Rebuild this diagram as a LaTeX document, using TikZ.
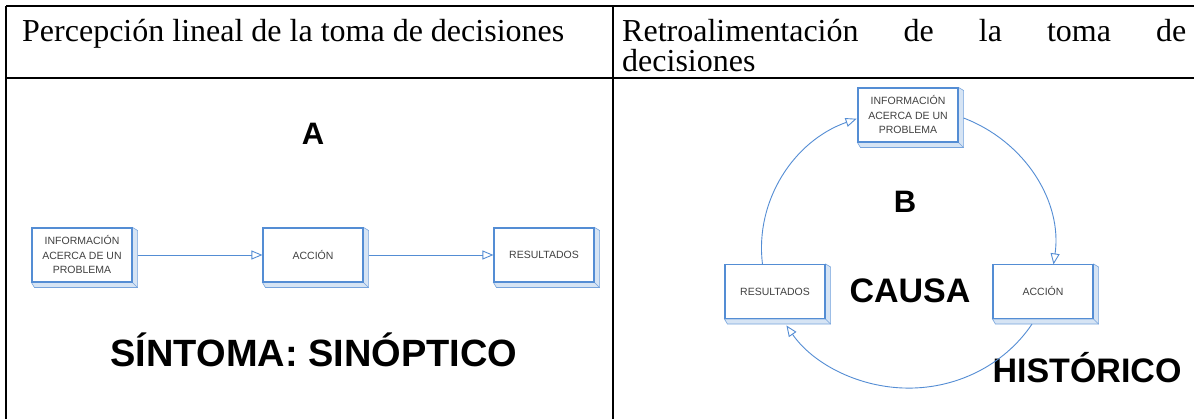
\documentclass[tikz,border=0pt]{standalone}
\usepackage{fontspec}
\setmainfont{Liberation Serif}
\newfontfamily\arial{Liberation Sans}
\usetikzlibrary{arrows.meta}
\pgfdeclarelayer{bg}
\pgfsetlayers{bg,main}
\definecolor{boxblue}{RGB}{84,141,212}
\definecolor{depthblue}{RGB}{214,228,244}
\tikzset{
  rule/.style={line width=1.6pt, black},
  flowbox/.style={draw=boxblue, line width=1.1pt, fill=white, minimum width=100pt,
    minimum height=54pt, inner sep=0pt, align=center, text=black!75,
    font=\arial\fontsize{10.5}{14.5}\selectfont},
  depthpart/.style={fill=depthblue, draw=boxblue!80, line width=0.6pt},
  conn/.style={draw=boxblue, line width=0.9pt, -{Triangle[open,length=11pt,width=9pt]}},
  headtxt/.style={anchor=base west, inner sep=0pt, font=\fontsize{32}{36}\selectfont},
  bigtxt/.style={anchor=base, inner sep=0pt, font=\arial\bfseries},
}
\begin{document}
\begin{tikzpicture}[x=1pt,y=-1pt]
\useasboundingbox (0,0) rectangle (1194,419);
% table rules
\draw[rule] (6,6) -- (1194,6);
\draw[rule] (6,78) -- (1194,78);
\draw[rule] (6,6) -- (6,419);
\draw[rule] (613,6) -- (613,419);
% headers
\node[headtxt] (h1) at (22,42) {Percepción lineal de la toma de decisiones};
\node[headtxt] (h2a) at (622,42) {\makebox[564pt]{Retroalimentación\hfill de\hfill la\hfill toma\hfill de}};
\node[headtxt] (h2b) at (622,72) {decisiones};
% left diagram
\node[bigtxt, font=\arial\bfseries\fontsize{31}{34}\selectfont] (lblA) at (313,145) {A};
\node[flowbox] (infoA) at (82,255) {INFORMACIÓN\\ACERCA DE UN\\PROBLEMA};
\node[flowbox] (accA) at (313,255) {ACCIÓN};
\node[flowbox] (resA) at (544,255) {RESULTADOS};
\draw[conn] ([xshift=5pt]infoA.east) -- (accA.west);
\draw[conn] ([xshift=5pt]accA.east) -- (resA.west);
\node[bigtxt, font=\arial\bfseries\fontsize{38}{42}\selectfont] (sint) at (314,367) {SÍNTOMA: SINÓPTICO};
% right diagram
\node[bigtxt, font=\arial\bfseries\fontsize{31}{34}\selectfont] (lblB) at (905,213) {B};
\node[flowbox] (infoB) at (908,115) {INFORMACIÓN\\ACERCA DE UN\\PROBLEMA};
\node[flowbox] (accB) at (1043,291.5) {ACCIÓN};
\node[flowbox] (resB) at (775,291.5) {RESULTADOS};
\node[bigtxt, font=\arial\bfseries\fontsize{34}{38}\selectfont] (causa) at (910,303) {CAUSA};
\node[bigtxt, font=\arial\bfseries\fontsize{34}{38}\selectfont] (hist) at (1087,383) {HISTÓRICO};
\draw[conn] ([xshift=38pt]resB.north west) arc[start angle=186.6, end angle=110.4, x radius=146pt, y radius=138pt];
\draw[conn] ([xshift=5pt,yshift=-3pt]infoB.east) arc[start angle=68, end angle=-7.7, x radius=146pt, y radius=138pt];
\draw[conn] ([xshift=-11pt,yshift=-5pt]accB.south) arc[start angle=-32.4, end angle=-146.9, x radius=146pt, y radius=138pt];
% 3D depth of boxes
\begin{pgfonlayer}{bg}
\fill[white] (0,0) rectangle (1194,419);
\foreach \n in {infoA,accA,resA,infoB,accB,resB}{
  \path[depthpart] (\n.north east) -- ([xshift=5pt,yshift=-3pt]\n.north east)
    -- ([xshift=5pt,yshift=-5pt]\n.south east) -- ([xshift=3pt,yshift=-5pt]\n.south west)
    -- (\n.south west) -- (\n.south east) -- cycle;
  \draw[boxblue!80, line width=0.6pt] (\n.south east) -- ([xshift=5pt,yshift=-5pt]\n.south east);
}
\end{pgfonlayer}
\end{tikzpicture}
\end{document}
